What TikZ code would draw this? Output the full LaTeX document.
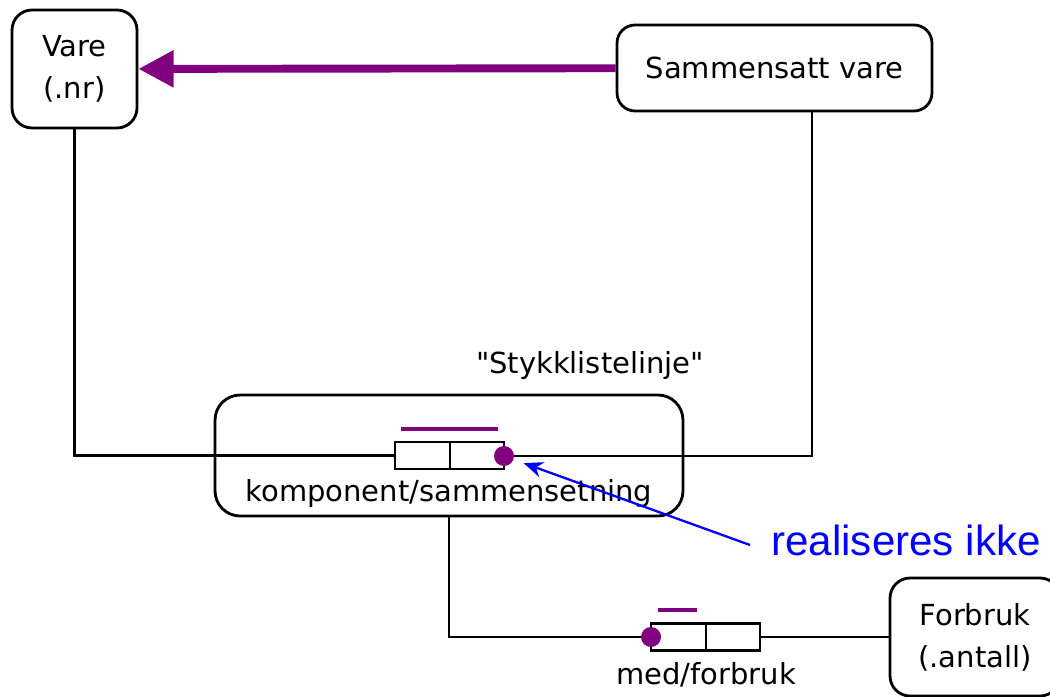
\documentclass[tikz,border=0pt]{standalone}
\usepackage{fontspec}
\setmainfont{DejaVu Sans}
\newfontfamily\notefont{Liberation Sans}
\usetikzlibrary{arrows.meta}
\definecolor{prp}{RGB}{128,0,128}
\definecolor{noteblue}{RGB}{0,0,255}
\begin{document}
\begin{tikzpicture}[x=0.02cm,y=-0.02cm,
    every node/.style={font=\fontsize{16.5}{24}\selectfont},
    entity/.style={draw,line width=1.6pt,rounded corners=0.4cm,align=center,inner sep=0pt},
    cell/.style={draw,line width=1.4pt,minimum width=1.09cm,minimum height=0.54cm,inner sep=0pt},
    dot/.style={circle,fill=prp,minimum size=0.4cm,inner sep=0pt},
    bar/.style={prp,line width=2.4pt},
    rel/.style={line width=1.4pt}]
        \useasboundingbox (0,0) rectangle (1050,696);
        % entities
        \node[entity,minimum width=2.5cm,minimum height=2.36cm] (vare) at (74.5,69) {Vare\\(.nr)};
        \node[entity,minimum width=6.3cm,minimum height=1.72cm,rounded corners=0.36cm] (samm) at (774.5,68) {Sammensatt vare};
        \node[entity,minimum width=9.36cm,minimum height=2.42cm,rounded corners=0.5cm] (styk) at (449,455.5) {};
        \node[entity,minimum width=3.4cm,minimum height=2.36cm] (forb) at (975,637) {Forbruk\\(.antall)};
        \node (stykname) at (590,365) {\textquotedbl Stykklistelinje\textquotedbl};
        % first role pair
        \node[cell] (k1a) at (422.5,455.5) {};
        \node[cell] (k1b) at (477,455.5) {};
        \node[dot] (d1) at (504,456) {};
        \draw[bar] (401,429) -- (498,429);
        \node (komp) at (449,493) {komponent/sammensetning};
        % second role pair
        \node[cell] (k2a) at (678.5,637) {};
        \node[cell] (k2b) at (733,637) {};
        \node[dot] (d2) at (651,637) {};
        \draw[bar] (658,610) -- (697,610);
        \node (medf) at (706,675) {med/forbruk};
        % connectors
        \draw[prp,line width=4.5pt,-{Triangle[length=20pt,width=20pt]}] (samm) -- (vare);
        \draw[rel] (vare.south) |- (k1a.west);
        \draw[rel] ([xshift=0.75cm]samm.south) |- (d1.east);
        \draw[rel] (styk.south) |- (d2.west);
        \draw[rel] (k2b.east) -- (forb.west);
        % annotation
        \node[text=noteblue,font=\notefont\fontsize{24}{28}\selectfont] (note) at (906,540) {realiseres ikke};
        \coordinate (noteend) at (750,545);
        \draw[noteblue,line width=1.3pt,-{Stealth[length=11pt,width=9pt]},shorten >=6pt] (noteend) -- (d1);
\end{tikzpicture}
\end{document}
